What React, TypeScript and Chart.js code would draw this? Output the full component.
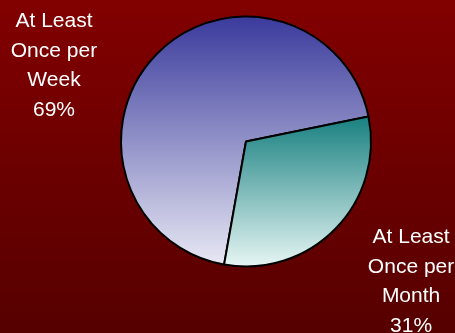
import React, { useEffect, useRef } from "react";
import { Chart, registerables } from "chart.js";

Chart.register(...registerables);

const categories = ["At Least Once per Week", "At Least Once per Month"];
const values = [69, 31];
const labelLines = [
  ["At Least", "Once per", "Week", "69%"],
  ["At Least", "Once per", "Month", "31%"],
];
const gradientTops = ["#3a3a9c", "#188080"];
const gradientBottoms = ["#e8e8f4", "#e6f6f4"];
// label anchor offsets (multiples of radius) relative to pie centre
const labelAnchors = [
  { dx: -1.524, dy: -0.906 },
  { dx: 1.31, dy: 0.806 },
];

function arcBounds(a: any) {
  const { x, y, outerRadius: r, startAngle: s, endAngle: e } = a;
  const ys = [y, y + r * Math.sin(s), y + r * Math.sin(e)];
  for (let k = -4; k <= 8; k++) {
    const ang = (k * Math.PI) / 2;
    if (ang > s && ang < e) ys.push(y + r * Math.sin(ang));
  }
  return { top: Math.min(...ys), bottom: Math.max(...ys) };
}

const bgPlugin = {
  id: "bgGrad",
  beforeDraw(chart: any) {
    const { ctx, width, height } = chart;
    const g = ctx.createLinearGradient(0, 0, 0, height);
    g.addColorStop(0, "#820000");
    g.addColorStop(1, "#560000");
    ctx.save();
    ctx.fillStyle = g;
    ctx.fillRect(0, 0, width, height);
    ctx.restore();
  },
  beforeDatasetsDraw(chart: any) {
    const meta = chart.getDatasetMeta(0);
    const ctx = chart.ctx;
    meta.data.forEach((arc: any, i: number) => {
      const b = arcBounds(arc);
      const g = ctx.createLinearGradient(0, b.top, 0, b.bottom);
      g.addColorStop(0, gradientTops[i]);
      g.addColorStop(1, gradientBottoms[i]);
      arc.options.backgroundColor = g;
    });
  },
  afterDatasetsDraw(chart: any) {
    const meta = chart.getDatasetMeta(0);
    const ctx = chart.ctx;
    ctx.save();
    ctx.fillStyle = "#ffffff";
    ctx.font = "21px 'Liberation Sans', Arial, sans-serif";
    ctx.textAlign = "center";
    ctx.textBaseline = "alphabetic";
    meta.data.forEach((arc: any, i: number) => {
      const r = arc.outerRadius + 1;
      const ax = arc.x + labelAnchors[i].dx * r;
      const ay = arc.y + labelAnchors[i].dy * r;
      labelLines[i].forEach((line, j) => {
        ctx.fillText(line, ax, ay + j * 29.5);
      });
    });
    ctx.restore();
  },
};

export default function App() {
  const ref = useRef<HTMLCanvasElement | null>(null);
  useEffect(() => {
    document.body.style.margin = "0";
    const chart = new Chart(ref.current as HTMLCanvasElement, {
      type: "pie",
      data: {
        labels: categories,
        datasets: [
          {
            data: values,
            backgroundColor: gradientTops,
            borderColor: "#000000",
            borderWidth: 2,
          },
        ],
      },
      options: {
        animation: false,
        responsive: false,
        rotation: 190.1,
        layout: { padding: { left: 120, right: 83, top: 15.5, bottom: 65.5 } },
        plugins: {
          legend: { display: false },
          tooltip: { enabled: false },
        },
      },
      plugins: [bgPlugin],
    });
    return () => chart.destroy();
  }, []);
  return (
    <div style={{ width: 455, height: 333 }}>
      <canvas ref={ref} width={455} height={333} style={{ display: "block" }} />
    </div>
  );
}
